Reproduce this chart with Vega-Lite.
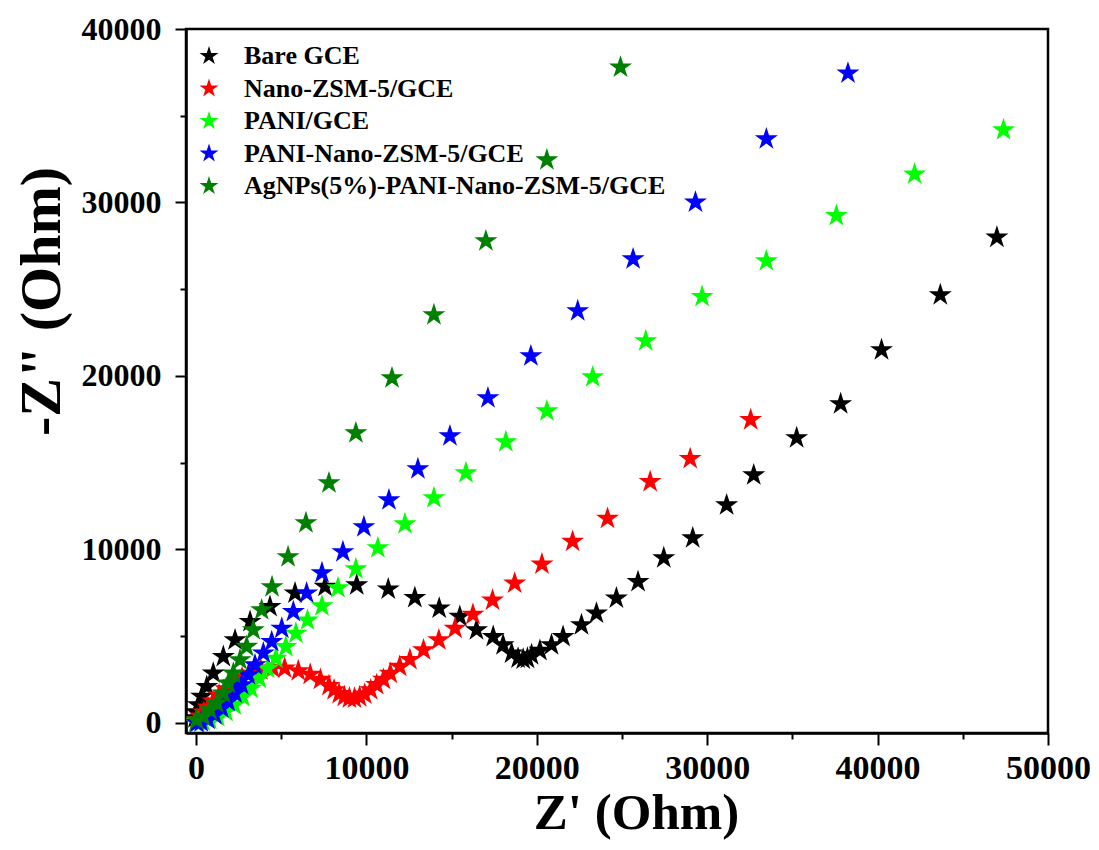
{
  "$schema": "https://vega.github.io/schema/vega-lite/v6.json",
  "autosize": {"type": "none"},
  "padding": {"left": 186, "top": 29, "right": 51, "bottom": 117},
  "width": 862,
  "height": 704,
  "background": "white",
  "config": {
    "view": {"stroke": "black", "strokeWidth": 2.5},
    "font": "Liberation Serif"
  },
  "datasets": {
    "eis": [
      {"s": "Bare GCE", "x": -60, "y": 290},
      {"s": "Bare GCE", "x": 0, "y": 630},
      {"s": "Bare GCE", "x": 130, "y": 1040},
      {"s": "Bare GCE", "x": 330, "y": 1520},
      {"s": "Bare GCE", "x": 630, "y": 2090},
      {"s": "Bare GCE", "x": 1010, "y": 2860},
      {"s": "Bare GCE", "x": 1600, "y": 3820},
      {"s": "Bare GCE", "x": 2290, "y": 4780},
      {"s": "Bare GCE", "x": 3170, "y": 5840},
      {"s": "Bare GCE", "x": 4340, "y": 6700},
      {"s": "Bare GCE", "x": 5810, "y": 7480},
      {"s": "Bare GCE", "x": 7570, "y": 7860},
      {"s": "Bare GCE", "x": 9430, "y": 7950},
      {"s": "Bare GCE", "x": 11280, "y": 7710},
      {"s": "Bare GCE", "x": 12840, "y": 7220},
      {"s": "Bare GCE", "x": 14270, "y": 6610},
      {"s": "Bare GCE", "x": 15480, "y": 6130},
      {"s": "Bare GCE", "x": 16460, "y": 5360},
      {"s": "Bare GCE", "x": 17440, "y": 4970},
      {"s": "Bare GCE", "x": 18020, "y": 4500},
      {"s": "Bare GCE", "x": 18520, "y": 4020},
      {"s": "Bare GCE", "x": 18900, "y": 3730},
      {"s": "Bare GCE", "x": 19200, "y": 3670},
      {"s": "Bare GCE", "x": 19450, "y": 3720},
      {"s": "Bare GCE", "x": 19690, "y": 3920},
      {"s": "Bare GCE", "x": 20180, "y": 4170},
      {"s": "Bare GCE", "x": 20860, "y": 4500},
      {"s": "Bare GCE", "x": 21540, "y": 4970},
      {"s": "Bare GCE", "x": 22620, "y": 5650},
      {"s": "Bare GCE", "x": 23500, "y": 6320},
      {"s": "Bare GCE", "x": 24670, "y": 7190},
      {"s": "Bare GCE", "x": 25940, "y": 8140},
      {"s": "Bare GCE", "x": 27450, "y": 9510},
      {"s": "Bare GCE", "x": 29150, "y": 10660},
      {"s": "Bare GCE", "x": 31140, "y": 12560},
      {"s": "Bare GCE", "x": 32730, "y": 14290},
      {"s": "Bare GCE", "x": 35250, "y": 16430},
      {"s": "Bare GCE", "x": 37830, "y": 18390},
      {"s": "Bare GCE", "x": 40230, "y": 21500},
      {"s": "Bare GCE", "x": 43680, "y": 24670},
      {"s": "Bare GCE", "x": 47000, "y": 27990},

      {"s": "Nano-ZSM-5/GCE", "x": 0, "y": 50},
      {"s": "Nano-ZSM-5/GCE", "x": 100, "y": 180},
      {"s": "Nano-ZSM-5/GCE", "x": 250, "y": 380},
      {"s": "Nano-ZSM-5/GCE", "x": 450, "y": 620},
      {"s": "Nano-ZSM-5/GCE", "x": 700, "y": 900},
      {"s": "Nano-ZSM-5/GCE", "x": 1000, "y": 1250},
      {"s": "Nano-ZSM-5/GCE", "x": 1350, "y": 1600},
      {"s": "Nano-ZSM-5/GCE", "x": 1750, "y": 1950},
      {"s": "Nano-ZSM-5/GCE", "x": 2200, "y": 2300},
      {"s": "Nano-ZSM-5/GCE", "x": 2700, "y": 2600},
      {"s": "Nano-ZSM-5/GCE", "x": 3200, "y": 2850},
      {"s": "Nano-ZSM-5/GCE", "x": 3800, "y": 3050},
      {"s": "Nano-ZSM-5/GCE", "x": 4500, "y": 3150},
      {"s": "Nano-ZSM-5/GCE", "x": 5200, "y": 3150},
      {"s": "Nano-ZSM-5/GCE", "x": 6000, "y": 3000},
      {"s": "Nano-ZSM-5/GCE", "x": 6700, "y": 2800},
      {"s": "Nano-ZSM-5/GCE", "x": 7300, "y": 2500},
      {"s": "Nano-ZSM-5/GCE", "x": 7800, "y": 2150},
      {"s": "Nano-ZSM-5/GCE", "x": 8100, "y": 1900},
      {"s": "Nano-ZSM-5/GCE", "x": 8400, "y": 1680},
      {"s": "Nano-ZSM-5/GCE", "x": 8700, "y": 1520},
      {"s": "Nano-ZSM-5/GCE", "x": 9000, "y": 1430},
      {"s": "Nano-ZSM-5/GCE", "x": 9300, "y": 1420},
      {"s": "Nano-ZSM-5/GCE", "x": 9600, "y": 1500},
      {"s": "Nano-ZSM-5/GCE", "x": 9900, "y": 1650},
      {"s": "Nano-ZSM-5/GCE", "x": 10250, "y": 1900},
      {"s": "Nano-ZSM-5/GCE", "x": 10600, "y": 2200},
      {"s": "Nano-ZSM-5/GCE", "x": 11000, "y": 2500},
      {"s": "Nano-ZSM-5/GCE", "x": 11400, "y": 2850},
      {"s": "Nano-ZSM-5/GCE", "x": 11950, "y": 3250},
      {"s": "Nano-ZSM-5/GCE", "x": 12550, "y": 3650},
      {"s": "Nano-ZSM-5/GCE", "x": 13350, "y": 4200},
      {"s": "Nano-ZSM-5/GCE", "x": 14250, "y": 4780},
      {"s": "Nano-ZSM-5/GCE", "x": 15200, "y": 5450},
      {"s": "Nano-ZSM-5/GCE", "x": 16250, "y": 6250},
      {"s": "Nano-ZSM-5/GCE", "x": 17400, "y": 7070},
      {"s": "Nano-ZSM-5/GCE", "x": 18700, "y": 8050},
      {"s": "Nano-ZSM-5/GCE", "x": 20300, "y": 9150},
      {"s": "Nano-ZSM-5/GCE", "x": 22100, "y": 10460},
      {"s": "Nano-ZSM-5/GCE", "x": 24150, "y": 11780},
      {"s": "Nano-ZSM-5/GCE", "x": 26650, "y": 13900},
      {"s": "Nano-ZSM-5/GCE", "x": 29000, "y": 15230},
      {"s": "Nano-ZSM-5/GCE", "x": 32550, "y": 17470},

      {"s": "PANI/GCE", "x": 0, "y": 20},
      {"s": "PANI/GCE", "x": 100, "y": 40},
      {"s": "PANI/GCE", "x": 400, "y": 100},
      {"s": "PANI/GCE", "x": 800, "y": 200},
      {"s": "PANI/GCE", "x": 1270, "y": 360},
      {"s": "PANI/GCE", "x": 1760, "y": 650},
      {"s": "PANI/GCE", "x": 2240, "y": 1030},
      {"s": "PANI/GCE", "x": 2740, "y": 1510},
      {"s": "PANI/GCE", "x": 3220, "y": 1990},
      {"s": "PANI/GCE", "x": 3710, "y": 2570},
      {"s": "PANI/GCE", "x": 4200, "y": 3140},
      {"s": "PANI/GCE", "x": 4690, "y": 3720},
      {"s": "PANI/GCE", "x": 5270, "y": 4390},
      {"s": "PANI/GCE", "x": 5860, "y": 5160},
      {"s": "PANI/GCE", "x": 6540, "y": 5920},
      {"s": "PANI/GCE", "x": 7390, "y": 6740},
      {"s": "PANI/GCE", "x": 8330, "y": 7780},
      {"s": "PANI/GCE", "x": 9380, "y": 8880},
      {"s": "PANI/GCE", "x": 10670, "y": 10090},
      {"s": "PANI/GCE", "x": 12260, "y": 11470},
      {"s": "PANI/GCE", "x": 13960, "y": 12970},
      {"s": "PANI/GCE", "x": 15840, "y": 14410},
      {"s": "PANI/GCE", "x": 18180, "y": 16200},
      {"s": "PANI/GCE", "x": 20590, "y": 17980},
      {"s": "PANI/GCE", "x": 23280, "y": 19940},
      {"s": "PANI/GCE", "x": 26390, "y": 22020},
      {"s": "PANI/GCE", "x": 29700, "y": 24570},
      {"s": "PANI/GCE", "x": 33470, "y": 26630},
      {"s": "PANI/GCE", "x": 37580, "y": 29240},
      {"s": "PANI/GCE", "x": 42170, "y": 31630},
      {"s": "PANI/GCE", "x": 47390, "y": 34180},

      {"s": "PANI-Nano-ZSM-5/GCE", "x": 50, "y": 10},
      {"s": "PANI-Nano-ZSM-5/GCE", "x": 300, "y": 60},
      {"s": "PANI-Nano-ZSM-5/GCE", "x": 700, "y": 200},
      {"s": "PANI-Nano-ZSM-5/GCE", "x": 1110, "y": 460},
      {"s": "PANI-Nano-ZSM-5/GCE", "x": 1510, "y": 850},
      {"s": "PANI-Nano-ZSM-5/GCE", "x": 1890, "y": 1230},
      {"s": "PANI-Nano-ZSM-5/GCE", "x": 2290, "y": 1710},
      {"s": "PANI-Nano-ZSM-5/GCE", "x": 2680, "y": 2190},
      {"s": "PANI-Nano-ZSM-5/GCE", "x": 3070, "y": 2770},
      {"s": "PANI-Nano-ZSM-5/GCE", "x": 3460, "y": 3340},
      {"s": "PANI-Nano-ZSM-5/GCE", "x": 3950, "y": 4020},
      {"s": "PANI-Nano-ZSM-5/GCE", "x": 4440, "y": 4680},
      {"s": "PANI-Nano-ZSM-5/GCE", "x": 5030, "y": 5450},
      {"s": "PANI-Nano-ZSM-5/GCE", "x": 5710, "y": 6410},
      {"s": "PANI-Nano-ZSM-5/GCE", "x": 6490, "y": 7480},
      {"s": "PANI-Nano-ZSM-5/GCE", "x": 7390, "y": 8650},
      {"s": "PANI-Nano-ZSM-5/GCE", "x": 8620, "y": 9860},
      {"s": "PANI-Nano-ZSM-5/GCE", "x": 9850, "y": 11300},
      {"s": "PANI-Nano-ZSM-5/GCE", "x": 11320, "y": 12850},
      {"s": "PANI-Nano-ZSM-5/GCE", "x": 13020, "y": 14640},
      {"s": "PANI-Nano-ZSM-5/GCE", "x": 14900, "y": 16540},
      {"s": "PANI-Nano-ZSM-5/GCE", "x": 17130, "y": 18730},
      {"s": "PANI-Nano-ZSM-5/GCE", "x": 19650, "y": 21150},
      {"s": "PANI-Nano-ZSM-5/GCE", "x": 22400, "y": 23750},
      {"s": "PANI-Nano-ZSM-5/GCE", "x": 25650, "y": 26740},
      {"s": "PANI-Nano-ZSM-5/GCE", "x": 29310, "y": 30010},
      {"s": "PANI-Nano-ZSM-5/GCE", "x": 33470, "y": 33660},
      {"s": "PANI-Nano-ZSM-5/GCE", "x": 38260, "y": 37450},

      {"s": "AgNPs(5%)-PANI-Nano-ZSM-5/GCE", "x": 40, "y": 170},
      {"s": "AgNPs(5%)-PANI-Nano-ZSM-5/GCE", "x": 430, "y": 360},
      {"s": "AgNPs(5%)-PANI-Nano-ZSM-5/GCE", "x": 820, "y": 750},
      {"s": "AgNPs(5%)-PANI-Nano-ZSM-5/GCE", "x": 1210, "y": 1140},
      {"s": "AgNPs(5%)-PANI-Nano-ZSM-5/GCE", "x": 1600, "y": 1710},
      {"s": "AgNPs(5%)-PANI-Nano-ZSM-5/GCE", "x": 1890, "y": 2290},
      {"s": "AgNPs(5%)-PANI-Nano-ZSM-5/GCE", "x": 2190, "y": 2860},
      {"s": "AgNPs(5%)-PANI-Nano-ZSM-5/GCE", "x": 2580, "y": 3630},
      {"s": "AgNPs(5%)-PANI-Nano-ZSM-5/GCE", "x": 2970, "y": 4400},
      {"s": "AgNPs(5%)-PANI-Nano-ZSM-5/GCE", "x": 3360, "y": 5360},
      {"s": "AgNPs(5%)-PANI-Nano-ZSM-5/GCE", "x": 3850, "y": 6510},
      {"s": "AgNPs(5%)-PANI-Nano-ZSM-5/GCE", "x": 4460, "y": 7840},
      {"s": "AgNPs(5%)-PANI-Nano-ZSM-5/GCE", "x": 5400, "y": 9570},
      {"s": "AgNPs(5%)-PANI-Nano-ZSM-5/GCE", "x": 6450, "y": 11530},
      {"s": "AgNPs(5%)-PANI-Nano-ZSM-5/GCE", "x": 7800, "y": 13830},
      {"s": "AgNPs(5%)-PANI-Nano-ZSM-5/GCE", "x": 9380, "y": 16710},
      {"s": "AgNPs(5%)-PANI-Nano-ZSM-5/GCE", "x": 11500, "y": 19880},
      {"s": "AgNPs(5%)-PANI-Nano-ZSM-5/GCE", "x": 13960, "y": 23520},
      {"s": "AgNPs(5%)-PANI-Nano-ZSM-5/GCE", "x": 17010, "y": 27780},
      {"s": "AgNPs(5%)-PANI-Nano-ZSM-5/GCE", "x": 20590, "y": 32450},
      {"s": "AgNPs(5%)-PANI-Nano-ZSM-5/GCE", "x": 24910, "y": 37790}
    ]
  },
  "data": {"name": "eis"},
  "mark": {
    "type": "point",
    "shape": "M0,-1L0.2245,-0.309L0.951,-0.309L0.363,0.118L0.588,0.809L0,0.382L-0.588,0.809L-0.363,0.118L-0.951,-0.309L-0.2245,-0.309Z",
    "filled": true,
    "opacity": 1,
    "size": 585,
    "clip": true
  },
  "encoding": {
    "x": {
      "field": "x",
      "type": "quantitative",
      "scale": {"domain": [-590, 50000], "nice": false, "zero": false},
      "axis": {
        "title": "Z' (Ohm)",
        "titleFont": "Liberation Serif",
        "titleFontSize": 51,
        "titleFontWeight": "bold",
        "titleColor": "black",
        "titleX": 450,
        "titleY": 95,
        "titleAlign": "center",
        "titleBaseline": "alphabetic",
        "values": [0, 5000, 10000, 15000, 20000, 25000, 30000, 35000, 40000, 45000, 50000],
        "labelExpr": "datum.value % 10000 === 0 ? format(datum.value, 'd') : ''",
        "labelFont": "Liberation Serif",
        "labelFontSize": 34,
        "labelFontWeight": "bold",
        "labelColor": "black",
        "labelPadding": 6,
        "labelFlush": false,
        "labelOverlap": false,
        "grid": false,
        "domainColor": "black",
        "domainWidth": 2.5,
        "tickColor": "black",
        "tickWidth": 2,
        "tickSize": {"condition": {"test": "datum.value % 10000 === 0", "value": 12}, "value": 6}
      }
    },
    "y": {
      "field": "y",
      "type": "quantitative",
      "scale": {"domain": [-580, 40000], "nice": false, "zero": false},
      "axis": {
        "title": "-Z\" (Ohm)",
        "titleFont": "Liberation Serif",
        "titleFontSize": 58,
        "titleFontWeight": "bold",
        "titleColor": "black",
        "titleAngle": 270,
        "titleX": -127,
        "titleY": 272,
        "titleAlign": "center",
        "titleBaseline": "alphabetic",
        "values": [0, 5000, 10000, 15000, 20000, 25000, 30000, 35000, 40000],
        "labelExpr": "datum.value % 10000 === 0 ? format(datum.value, 'd') : ''",
        "labelFont": "Liberation Serif",
        "labelFontSize": 32,
        "labelFontWeight": "bold",
        "labelColor": "black",
        "labelPadding": 14,
        "labelFlush": false,
        "labelOverlap": false,
        "grid": false,
        "domainColor": "black",
        "domainWidth": 2.5,
        "tickColor": "black",
        "tickWidth": 2,
        "tickSize": {"condition": {"test": "datum.value % 10000 === 0", "value": 11}, "value": 6}
      }
    },
    "color": {
      "field": "s",
      "type": "nominal",
      "sort": null,
      "scale": {
        "domain": ["Bare GCE", "Nano-ZSM-5/GCE", "PANI/GCE", "PANI-Nano-ZSM-5/GCE", "AgNPs(5%)-PANI-Nano-ZSM-5/GCE"],
        "range": ["#000000", "#ff0000", "#00ff00", "#0000ff", "#008000"]
      },
      "legend": {
        "title": null,
        "orient": "none",
        "legendX": 10,
        "legendY": 14,
        "labelFont": "Liberation Serif",
        "labelFontSize": 26,
        "labelFontWeight": "bold",
        "labelColor": "black",
        "labelOffset": 22,
        "labelLimit": 0,
        "symbolSize": 400,
        "symbolType": "M0,-1L0.2245,-0.309L0.951,-0.309L0.363,0.118L0.588,0.809L0,0.382L-0.588,0.809L-0.363,0.118L-0.951,-0.309L-0.2245,-0.309Z",
        "symbolStrokeWidth": 0,
        "symbolOpacity": 1,
        "rowPadding": 6.5,
        "padding": 0
      }
    }
  }
}
